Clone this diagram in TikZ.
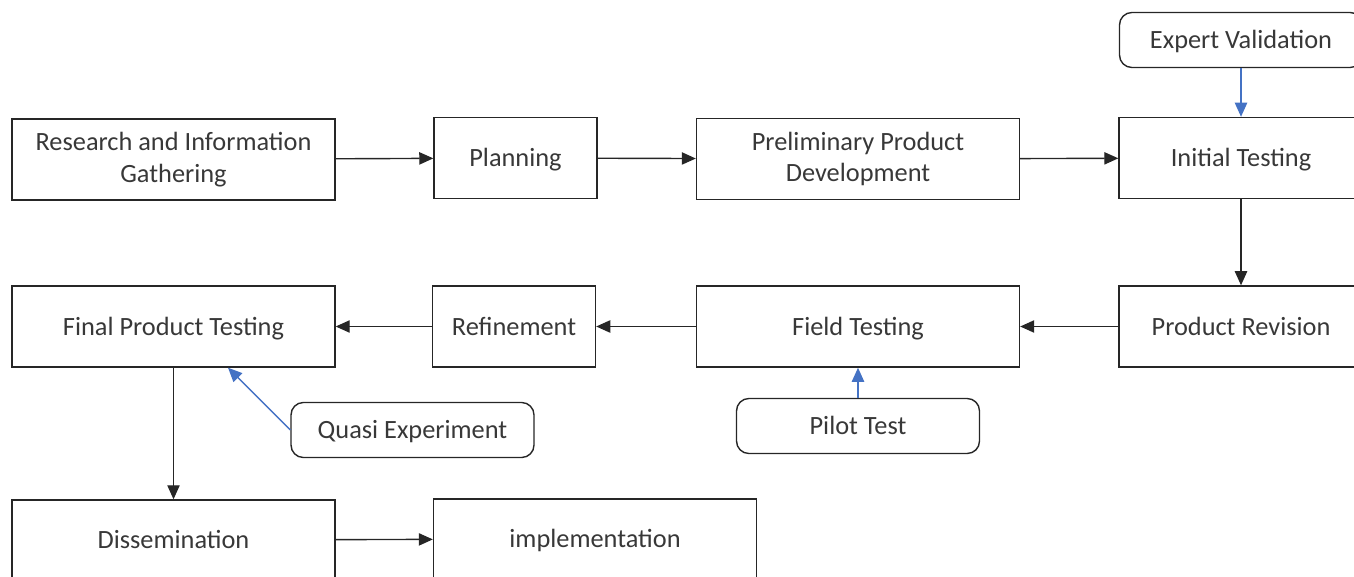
\documentclass[tikz,border=0pt]{standalone}
\usepackage{fontspec}
\setmainfont{Carlito}
\usepackage{tikz}
\usetikzlibrary{arrows.meta, positioning}

\definecolor{linkblue}{HTML}{4472C4}

\begin{document}
\begin{tikzpicture}[
  x=0.02cm, y=-0.02cm,
  stage/.style={draw=black!85, line width=0.8pt, minimum height=1.62cm,
                align=center, font=\fontsize{15}{18}\selectfont, text=black!78,
                text height=12pt, text depth=2pt},
  wide/.style={stage, minimum width=6.46cm},
  slim/.style={stage, minimum width=3.26cm},
  side/.style={stage, minimum width=4.88cm},
  note/.style={draw=black!85, line width=0.8pt, rounded corners=7pt, minimum width=4.86cm,
               minimum height=1.1cm, align=center, font=\fontsize{15}{18}\selectfont, text=black!78,
               text height=12pt, text depth=2pt},
  arr/.style={-{Triangle[length=8pt, width=7pt]}, line width=0.8pt, draw=black!85},
  barr/.style={-{Triangle[length=8pt, width=7pt]}, line width=0.8pt, draw=linkblue}
]
\useasboundingbox (0,0) rectangle (1354,577);

% top row
\node[wide, text height=, text depth=] (research) at (173.5,159.5) {Research and Information\\Gathering};
\node[slim] (planning)  at (515.5,158)   {Planning};
\node[wide, text height=, text depth=] (prelim) at (858,159) {Preliminary Product\\Development};
\node[side] (initial)   at (1241,158)    {Initial Testing};
\node[note] (expert)    at (1241,40)     {Expert Validation};

% middle row
\node[side] (revision)  at (1241,326.5)  {Product Revision};
\node[wide] (field)     at (858,326.5)   {Field Testing};
\node[slim] (refine)    at (514,326.5)   {Refinement};
\node[wide] (final)     at (173.5,326.5) {Final Product Testing};
\node[note] (quasi)     at (412.5,430)   {Quasi Experiment};
\node[note] (pilot)     at (858,426)     {Pilot Test};

% bottom row
\node[wide, minimum height=1.6cm] (dissem) at (173.5,540) {Dissemination};
\node[wide, minimum height=1.6cm] (implem) at (595,539)   {implementation};

\draw[arr]  (research) -- (planning);
\draw[arr]  (planning) -- (prelim);
\draw[arr]  (prelim)   -- (initial);
\draw[barr] (expert)   -- (initial);
\draw[arr]  (initial)  -- (revision);
\draw[arr]  (revision) -- (field);
\draw[arr]  (field)    -- (refine);
\draw[arr]  (refine)   -- (final);
\draw[barr] (pilot)    -- (field);
\draw[barr] (quasi.west) -- ([xshift=1.09cm]final.south);
\draw[arr]  (final)    -- (dissem);
\draw[arr]  (dissem)   -- (implem);

\end{tikzpicture}
\end{document}
